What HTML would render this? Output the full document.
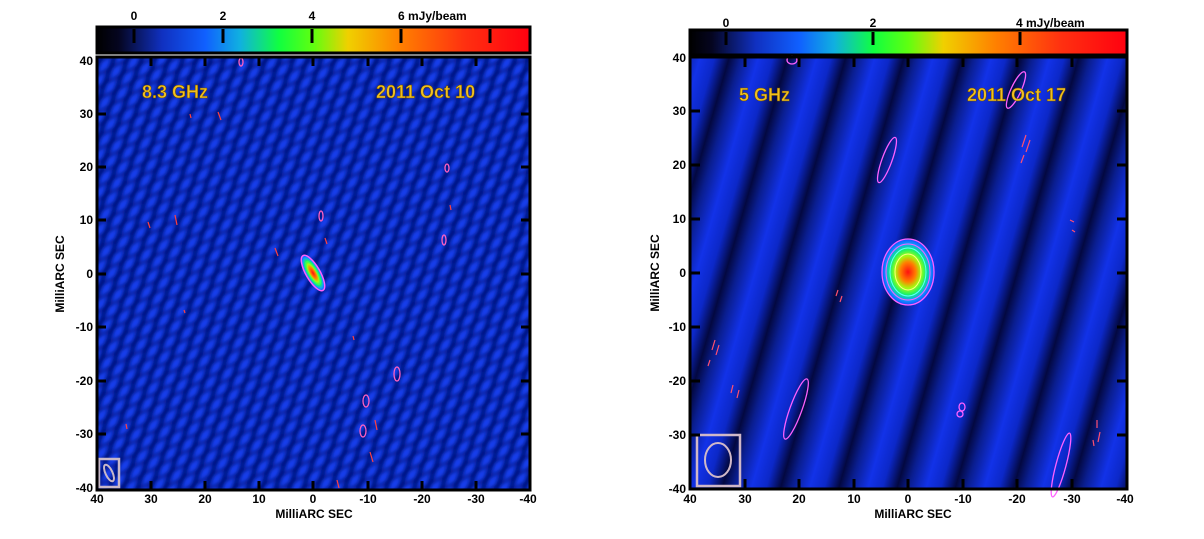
<!DOCTYPE html>
<html><head><meta charset="utf-8"><style>
html,body{margin:0;padding:0;background:#fff;}
svg{display:block;font-family:"Liberation Sans",Arial,sans-serif;font-weight:bold;}
</style></head><body>
<svg width="1204" height="539" viewBox="0 0 1204 539" xmlns="http://www.w3.org/2000/svg">
<defs>
<linearGradient id="cb" x1="0" x2="1" y1="0" y2="0">
<stop offset="0" stop-color="#000"/>
<stop offset="0.05" stop-color="#050520"/>
<stop offset="0.15" stop-color="#1030c0"/>
<stop offset="0.25" stop-color="#1060ff"/>
<stop offset="0.33" stop-color="#10b0e0"/>
<stop offset="0.42" stop-color="#10ff40"/>
<stop offset="0.5" stop-color="#60ff10"/>
<stop offset="0.58" stop-color="#f0d000"/>
<stop offset="0.7" stop-color="#ff8000"/>
<stop offset="0.85" stop-color="#ff3010"/>
<stop offset="1" stop-color="#ff0010"/>
</linearGradient>
<linearGradient id="sg" x1="0" x2="1" y1="0" y2="0">
<stop offset="0" stop-color="#0a1e90"/>
<stop offset="0.3" stop-color="#1232e8"/>
<stop offset="0.55" stop-color="#0c28c8"/>
<stop offset="0.8" stop-color="#030840"/>
<stop offset="1" stop-color="#0a1e90"/>
</linearGradient>
<pattern id="ps" width="56" height="600" patternUnits="userSpaceOnUse" patternTransform="rotate(16)">
<rect width="56" height="600" fill="url(#sg)"/>
</pattern>
<pattern id="pl1" width="13" height="600" patternUnits="userSpaceOnUse" patternTransform="rotate(20)">
<rect width="13" height="600" fill="#1440f0"/>
<rect x="7" width="6" height="600" fill="#06168a"/>
</pattern>
<pattern id="pl2" width="600" height="11" patternUnits="userSpaceOnUse" patternTransform="rotate(-28)">
<rect y="0" width="600" height="4" fill="#040c70" opacity="0.6"/>
</pattern>
<filter id="bl" x="0" y="0" width="1" height="1"><feGaussianBlur stdDeviation="1.8"/></filter>
<clipPath id="cl"><rect x="97" y="57" width="433" height="433"/></clipPath>
<radialGradient id="src" cx="0.5" cy="0.5" r="0.5">
<stop offset="0" stop-color="#ff1010"/>
<stop offset="0.3" stop-color="#ff8000"/>
<stop offset="0.5" stop-color="#a0ff10"/>
<stop offset="0.7" stop-color="#10f070"/>
<stop offset="0.85" stop-color="#10a0ff"/>
<stop offset="1" stop-color="#1050ff"/>
</radialGradient>
</defs>

<!-- LEFT -->
<g font-size="12">
<rect x="97" y="27" width="433" height="26" fill="url(#cb)" stroke="#000" stroke-width="3"/>
<g stroke="#000" stroke-width="3">
<line x1="134" y1="29" x2="134" y2="43"/><line x1="223" y1="29" x2="223" y2="43"/><line x1="312" y1="29" x2="312" y2="43"/><line x1="401" y1="29" x2="401" y2="43"/><line x1="490" y1="29" x2="490" y2="43"/>
</g>
<text x="134" y="20" text-anchor="middle">0</text><text x="223" y="20" text-anchor="middle">2</text><text x="312" y="20" text-anchor="middle">4</text><text x="398" y="20">6 mJy/beam</text>
<g clip-path="url(#cl)">
<rect x="97" y="57" width="433" height="433" fill="#0e2cc0"/>
<g filter="url(#bl)">
<rect x="90" y="50" width="447" height="447" fill="url(#pl1)"/>
<rect x="90" y="50" width="447" height="447" fill="url(#pl2)"/>
</g>
</g>
<ellipse cx="313" cy="273" rx="7" ry="20" transform="rotate(-30 313 273)" fill="url(#src)" stroke="#ff60ff" stroke-width="1.5"/>
<ellipse cx="313" cy="273" rx="4" ry="13" transform="rotate(-30 313 273)" fill="none" stroke="#30ff60" stroke-width="1"/>
<g fill="none" stroke="#ff60c0" stroke-width="1.3">
<ellipse cx="397" cy="374" rx="3" ry="7"/><ellipse cx="321" cy="216" rx="2" ry="5"/><ellipse cx="366" cy="401" rx="3" ry="6"/><ellipse cx="363" cy="431" rx="3" ry="6"/><ellipse cx="444" cy="240" rx="2" ry="5"/><ellipse cx="447" cy="168" rx="2" ry="4"/><ellipse cx="241" cy="62" rx="2" ry="4"/>
</g>
<g fill="none" stroke="#ff4040" stroke-width="1.2">
<path d="M275 248 l3 8"/><path d="M325 238 l2 6"/><path d="M375 420 l2 10"/><path d="M370 452 l3 10"/><path d="M175 215 l2 10"/><path d="M148 222 l2 6"/><path d="M218 112 l3 8"/><path d="M184 310 l1 3"/><path d="M353 336 l1 4"/><path d="M337 480 l2 8"/><path d="M126 424 l1 5"/><path d="M450 205 l1 5"/><path d="M190 114 l1 4"/>
</g>
<rect x="99" y="459" width="20" height="28" fill="none" stroke="#c8b8c8" stroke-width="2.5"/>
<ellipse cx="109" cy="473" rx="3.5" ry="9" transform="rotate(-25 109 473)" fill="none" stroke="#c8b8c8" stroke-width="2"/>
<rect x="97" y="57" width="433" height="433" fill="none" stroke="#000" stroke-width="3"/>
<g stroke="#000" stroke-width="3">
<line x1="151" y1="57" x2="151" y2="66"/><line x1="205" y1="57" x2="205" y2="66"/><line x1="259" y1="57" x2="259" y2="66"/><line x1="313" y1="57" x2="313" y2="66"/><line x1="368" y1="57" x2="368" y2="66"/><line x1="422" y1="57" x2="422" y2="66"/><line x1="476" y1="57" x2="476" y2="66"/>
<line x1="151" y1="490" x2="151" y2="481"/><line x1="205" y1="490" x2="205" y2="481"/><line x1="259" y1="490" x2="259" y2="481"/><line x1="313" y1="490" x2="313" y2="481"/><line x1="368" y1="490" x2="368" y2="481"/><line x1="422" y1="490" x2="422" y2="481"/><line x1="476" y1="490" x2="476" y2="481"/>
<line x1="97" y1="114" x2="106" y2="114"/><line x1="97" y1="167" x2="106" y2="167"/><line x1="97" y1="220" x2="106" y2="220"/><line x1="97" y1="274" x2="106" y2="274"/><line x1="97" y1="327" x2="106" y2="327"/><line x1="97" y1="381" x2="106" y2="381"/><line x1="97" y1="434" x2="106" y2="434"/>
<line x1="530" y1="114" x2="521" y2="114"/><line x1="530" y1="167" x2="521" y2="167"/><line x1="530" y1="220" x2="521" y2="220"/><line x1="530" y1="274" x2="521" y2="274"/><line x1="530" y1="327" x2="521" y2="327"/><line x1="530" y1="381" x2="521" y2="381"/><line x1="530" y1="434" x2="521" y2="434"/>
</g>
<g text-anchor="end"><text x="93" y="65">40</text><text x="93" y="118">30</text><text x="93" y="171">20</text><text x="93" y="224">10</text><text x="93" y="278">0</text><text x="93" y="331">-10</text><text x="93" y="385">-20</text><text x="93" y="438">-30</text><text x="93" y="492">-40</text></g>
<g text-anchor="middle"><text x="97" y="503">40</text><text x="151" y="503">30</text><text x="205" y="503">20</text><text x="259" y="503">10</text><text x="313" y="503">0</text><text x="368" y="503">-10</text><text x="422" y="503">-20</text><text x="476" y="503">-30</text><text x="528" y="503">-40</text></g>
<text x="314" y="518" text-anchor="middle">MilliARC SEC</text>
<text transform="translate(64 274) rotate(-90)" text-anchor="middle">MilliARC SEC</text>
<text x="142" y="98" font-size="18" fill="#f0c020" stroke="#6a4a00" stroke-width="0.5">8.3 GHz</text>
<text x="376" y="98" font-size="18" fill="#f0c020" stroke="#6a4a00" stroke-width="0.5">2011 Oct 10</text>
</g>

<!-- RIGHT -->
<g font-size="12">
<rect x="690" y="30" width="437" height="25" fill="url(#cb)" stroke="#000" stroke-width="3"/>
<g stroke="#000" stroke-width="3">
<line x1="726" y1="32" x2="726" y2="45"/><line x1="873" y1="32" x2="873" y2="45"/><line x1="1020" y1="32" x2="1020" y2="45"/>
</g>
<text x="726" y="27" text-anchor="middle">0</text><text x="873" y="27" text-anchor="middle">2</text><text x="1016" y="27">4 mJy/beam</text>
<rect x="690" y="57" width="437" height="432" fill="url(#ps)"/>
<ellipse cx="908" cy="272" rx="26" ry="33" fill="url(#src)" stroke="#ff60ff" stroke-width="1.3"/>
<ellipse cx="908" cy="272" rx="22" ry="28" fill="none" stroke="#ff60ff" stroke-width="1"/>
<ellipse cx="908" cy="272" rx="18" ry="24" fill="none" stroke="#60ffff" stroke-width="1"/>
<ellipse cx="908" cy="272" rx="13" ry="18" fill="none" stroke="#ffff80" stroke-width="1"/>
<g fill="none" stroke="#ff60ff" stroke-width="1.3">
<ellipse cx="887" cy="160" rx="5" ry="24" transform="rotate(20 887 160)"/>
<ellipse cx="796" cy="409" rx="6" ry="32" transform="rotate(20 796 409)"/>
<ellipse cx="1061" cy="465" rx="5" ry="33" transform="rotate(15 1061 465)"/>
<ellipse cx="1016" cy="90" rx="5" ry="20" transform="rotate(25 1016 90)"/>
<ellipse cx="792" cy="60" rx="5" ry="4"/>
<ellipse cx="962" cy="407" rx="3" ry="4"/><ellipse cx="960" cy="414" rx="3" ry="3"/>
</g>
<g fill="none" stroke="#ff5070" stroke-width="1.2">
<path d="M1026 135 l-4 12 M1030 140 l-4 12 M1024 155 l-3 8"/><path d="M1070 220 l4 2 M1072 230 l3 2"/><path d="M838 290 l-2 6 M842 296 l-2 6"/><path d="M715 340 l-3 10 M719 345 l-3 10 M710 360 l-2 6"/><path d="M733 385 l-2 8 M739 390 l-2 8"/><path d="M1097 420 l0 8 M1100 432 l-2 10 M1093 440 l1 6"/>
</g>
<rect x="697" y="435" width="43" height="51" fill="none" stroke="#d0b8c8" stroke-width="2.5"/>
<ellipse cx="718" cy="460" rx="13" ry="17" fill="none" stroke="#d0b8c8" stroke-width="2"/>
<rect x="690" y="57" width="437" height="432" fill="none" stroke="#000" stroke-width="3"/>
<g stroke="#000" stroke-width="3">
<line x1="745" y1="57" x2="745" y2="67"/><line x1="799" y1="57" x2="799" y2="67"/><line x1="854" y1="57" x2="854" y2="67"/><line x1="908" y1="57" x2="908" y2="67"/><line x1="963" y1="57" x2="963" y2="67"/><line x1="1017" y1="57" x2="1017" y2="67"/><line x1="1072" y1="57" x2="1072" y2="67"/>
<line x1="745" y1="489" x2="745" y2="479"/><line x1="799" y1="489" x2="799" y2="479"/><line x1="854" y1="489" x2="854" y2="479"/><line x1="908" y1="489" x2="908" y2="479"/><line x1="963" y1="489" x2="963" y2="479"/><line x1="1017" y1="489" x2="1017" y2="479"/><line x1="1072" y1="489" x2="1072" y2="479"/>
<line x1="690" y1="111" x2="700" y2="111"/><line x1="690" y1="165" x2="700" y2="165"/><line x1="690" y1="219" x2="700" y2="219"/><line x1="690" y1="273" x2="700" y2="273"/><line x1="690" y1="327" x2="700" y2="327"/><line x1="690" y1="381" x2="700" y2="381"/><line x1="690" y1="435" x2="700" y2="435"/>
<line x1="1127" y1="111" x2="1117" y2="111"/><line x1="1127" y1="165" x2="1117" y2="165"/><line x1="1127" y1="219" x2="1117" y2="219"/><line x1="1127" y1="273" x2="1117" y2="273"/><line x1="1127" y1="327" x2="1117" y2="327"/><line x1="1127" y1="381" x2="1117" y2="381"/><line x1="1127" y1="435" x2="1117" y2="435"/>
</g>
<g text-anchor="end"><text x="686" y="62">40</text><text x="686" y="115">30</text><text x="686" y="169">20</text><text x="686" y="223">10</text><text x="686" y="277">0</text><text x="686" y="331">-10</text><text x="686" y="385">-20</text><text x="686" y="439">-30</text><text x="686" y="493">-40</text></g>
<g text-anchor="middle"><text x="690" y="503">40</text><text x="745" y="503">30</text><text x="799" y="503">20</text><text x="854" y="503">10</text><text x="908" y="503">0</text><text x="963" y="503">-10</text><text x="1017" y="503">-20</text><text x="1072" y="503">-30</text><text x="1125" y="503">-40</text></g>
<text x="913" y="518" text-anchor="middle">MilliARC SEC</text>
<text transform="translate(659 273) rotate(-90)" text-anchor="middle">MilliARC SEC</text>
<text x="739" y="101" font-size="18" fill="#f0c020" stroke="#6a4a00" stroke-width="0.5">5 GHz</text>
<text x="967" y="101" font-size="18" fill="#f0c020" stroke="#6a4a00" stroke-width="0.5">2011 Oct 17</text>
</g>
</svg>
</body></html>
